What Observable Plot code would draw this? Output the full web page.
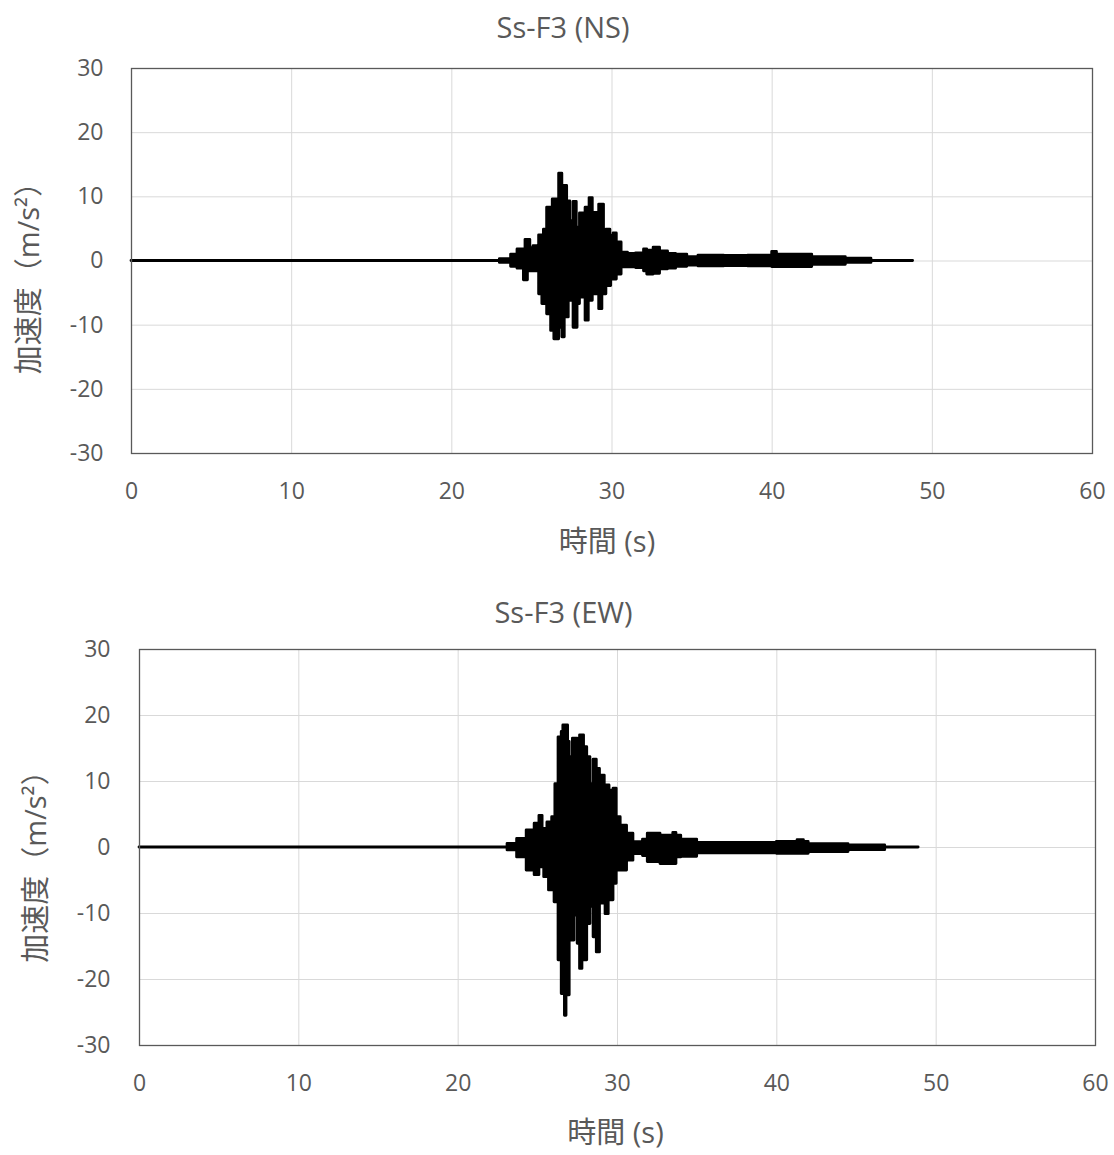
<!DOCTYPE html>
<html>
<head>
<meta charset="utf-8">
<script src="https://cdn.jsdelivr.net/npm/d3@7"></script>
<script src="https://cdn.jsdelivr.net/npm/@observablehq/plot@0.6"></script>
<style>
  body { margin: 0; background: #fff; }
  #chart { width: 1114px; height: 1155px; background: #fff; }
  #chart svg { display: block; }
</style>
</head>
<body>
<div id="chart"></div>
<script>
// ---- tick labels ----
const xTicks = [0, 10, 20, 30, 40, 50, 60];
const yTicks = [-30, -20, -10, 0, 10, 20, 30];
const titles = ["Ss-F3 (NS)", "Ss-F3 (EW)"];
const xLabel = "時間 (s)";
const yLabel = "加速度（m/s²）";

// ---- NS component: envelope (max / min acceleration, m/s²) by time (s) ----
const nsTime  = [0, 23.0, 23.7, 24.1, 24.5, 24.6, 24.75, 24.9, 25.1, 25.35, 25.45, 25.65, 25.75, 25.95, 26.2, 26.3, 26.4, 26.7, 26.9, 27.05, 27.2, 27.3, 27.4, 27.6, 27.8, 27.85, 28.0, 28.2, 28.35, 28.55, 28.6, 28.8, 29.1, 29.2, 29.4, 29.5, 29.65, 29.9, 29.95, 30.1, 30.3, 30.6, 31.0, 31.5, 32.0, 32.2, 32.6, 33.0, 33.5, 34.0, 34.7, 35.4, 37.0, 38.5, 40.0, 40.3, 42.5, 44.6, 46.2, 48.8];
const nsUpper = [0, 0.3, 1.0, 1.8, 1.8, 3.3, 3.3, 2.0, 2.3, 0.5, 4.0, 4.0, 4.9, 8.3, 8.3, 9.6, 9.6, 13.6, 11.7, 11.7, 9.3, 9.3, 6.2, 9.2, 5.2, 5.2, 7.4, 7.4, 8.3, 8.3, 9.8, 7.5, 5.2, 8.8, 8.8, 4.4, 4.9, 3.9, 3.9, 4.3, 2.9, 1.3, 1.1, 1.2, 1.8, 1.6, 2.1, 1.5, 1.1, 1.0, 0.6, 0.85, 0.8, 0.85, 1.4, 1.0, 0.6, 0.35, 0, 0];
const nsLower = [0, -0.3, -0.9, -1.2, -3.0, -3.0, -1.6, -1.6, -1.6, -0.5, -5.2, -6.7, -6.7, -8.3, -10.9, -10.9, -12.2, -10.4, -11.9, -8.8, -8.8, -6.2, -6.2, -10.4, -10.4, -6.7, -5.7, -5.7, -9.3, -6.2, -6.2, -5.2, -5.2, -7.5, -5.2, -5.2, -3.9, -3.9, -2.9, -2.9, -2.1, -1.0, -1.0, -1.1, -1.6, -2.1, -2.0, -1.3, -1.2, -0.9, -0.7, -0.85, -0.8, -0.85, -0.95, -0.95, -0.6, -0.3, 0, 0];

// ---- EW component ----
const ewTime  = [0, 23.1, 23.7, 24.3, 24.8, 25.1, 25.3, 25.4, 25.6, 25.7, 25.9, 26.05, 26.1, 26.3, 26.5, 26.6, 26.7, 26.8, 26.9, 27.0, 27.2, 27.3, 27.5, 27.65, 27.8, 27.9, 28.1, 28.3, 28.5, 28.7, 28.9, 29.2, 29.25, 29.45, 29.5, 29.75, 29.95, 30.2, 30.6, 31.0, 31.6, 31.9, 32.7, 33.5, 33.7, 34.0, 35.0, 40.0, 41.3, 41.7, 42.0, 44.5, 46.8, 48.9];
const ewUpper = [0, 0.55, 1.3, 2.6, 3.6, 4.8, 2.8, 2.8, 3.8, 3.8, 4.6, 4.6, 9.6, 16.7, 17.5, 18.5, 18.5, 18.5, 16.0, 13.7, 16.5, 16.5, 10.7, 17.0, 17.0, 15.2, 13.7, 9.6, 13.3, 11.9, 10.9, 9.4, 9.4, 9.4, 8.6, 8.9, 4.6, 3.3, 2.1, 0.8, 1.2, 2.1, 1.8, 2.2, 1.8, 1.2, 0.7, 0.85, 1.1, 0.85, 0.5, 0.3, 0, 0];
const ewLower = [0, -0.45, -1.5, -3.5, -4.2, -3.0, -3.0, -4.5, -4.5, -6.5, -6.5, -8.3, -8.3, -17.1, -22.2, -22.2, -25.5, -22.4, -22.4, -14.1, -14.1, -10.3, -14.6, -18.4, -17.1, -17.1, -11.6, -9.0, -13.6, -15.9, -8.5, -8.5, -10.1, -8.0, -8.0, -5.5, -3.5, -3.5, -2.0, -1.0, -1.3, -2.2, -2.5, -2.5, -1.5, -1.4, -0.9, -0.95, -0.95, -0.95, -0.7, -0.4, 0, 0];

const FONT = "'Open Sans', 'Noto Sans CJK JP', sans-serif";
const GREY = "#595959";

function panel(cfg) {
  const rows = cfg.time.map((t, i) => ({t, hi: cfg.upper[i], lo: cfg.lower[i]}));
  return Plot.plot({
    width: 1114,
    height: cfg.height,
    marginTop: cfg.mt,
    marginBottom: cfg.mb,
    marginLeft: cfg.ml,
    marginRight: cfg.mr,
    style: {fontFamily: FONT, fontSize: "23px", color: GREY, background: "#fff"},
    x: {domain: [0, 60], axis: null},
    y: {domain: [-30, 30], axis: null},
    marks: [
      Plot.gridX(xTicks.slice(1, -1), {stroke: "#d9d9d9", strokeOpacity: 1, strokeWidth: 1}),
      Plot.gridY(yTicks.slice(1, -1), {stroke: "#d9d9d9", strokeOpacity: 1, strokeWidth: 1}),
      Plot.areaY(rows, {x: "t", y1: "lo", y2: "hi", curve: "step-after", fill: "#000", stroke: "#000", strokeWidth: 2.8}),
      Plot.frame({stroke: GREY, strokeWidth: 1.3}),
      Plot.axisX(xTicks, {tickSize: 0, tickPadding: 29, fontSize: 23, fill: GREY, label: null, tickFormat: d => String(d)}),
      Plot.axisY(yTicks, {tickSize: 0, tickPadding: cfg.ytp, fontSize: 23, fill: GREY, label: null, tickFormat: d => String(d)}),
      Plot.text([cfg.title], {frameAnchor: "top", lineAnchor: "middle", textAnchor: "middle", dy: cfg.titleDy, dx: cfg.titleDx, fontSize: 29, fill: GREY, fontFamily: FONT}),
      Plot.text([xLabel], {frameAnchor: "bottom", lineAnchor: "middle", textAnchor: "middle", dy: cfg.xlDy, dx: cfg.xlDx, fontSize: 29, fill: GREY, fontFamily: FONT}),
      Plot.text([yLabel], {frameAnchor: "left", lineAnchor: "middle", textAnchor: "middle", rotate: -90, dx: cfg.ylDx, dy: cfg.ylDy, fontSize: 29, fill: GREY, fontFamily: FONT})
    ]
  });
}

const chart = document.getElementById("chart");
chart.append(panel({
  time: nsTime, upper: nsUpper, lower: nsLower, title: titles[0],
  height: 580, mt: 68, mb: 127, ml: 131, mr: 22, ytp: 28,
  titleDy: -40, titleDx: -49, xlDy: 89, xlDx: -5, ylDx: -102, ylDy: 10
}));
chart.append(panel({
  time: ewTime, upper: ewUpper, lower: ewLower, title: titles[1],
  height: 575, mt: 69, mb: 110, ml: 139, mr: 19, ytp: 29,
  titleDy: -36, titleDx: -54, xlDy: 88, xlDx: -2, ylDx: -103, ylDy: 12
}));
</script>
</body>
</html>
